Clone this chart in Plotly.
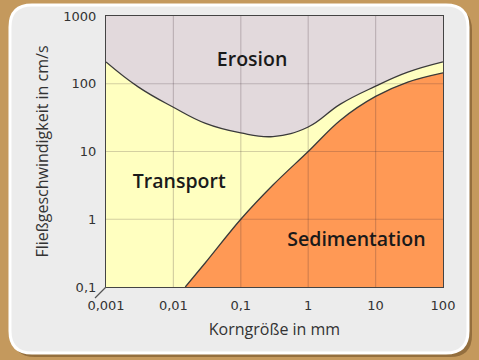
import plotly.graph_objects as go

# ---- data (grain size in mm, flow velocity in cm/s) ----
erosion_x = [0.001, 0.003, 0.01, 0.03, 0.1, 0.3, 1, 3, 10, 30, 100]
erosion_y = [210, 90, 45, 26, 18.8, 16.6, 23, 50, 92, 148, 210]

sediment_x = [0.015, 0.03, 0.1, 0.3, 1, 3, 10, 30, 100]
sediment_y = [0.1, 0.23, 1.0, 3.2, 10, 29, 65, 106, 145]

x_tickvals = [0.001, 0.01, 0.1, 1, 10, 100]
x_ticktext = ["0,001", "0,01", "0,1", "1", "10", "100"]
y_tickvals = [0.1, 1, 10, 100, 1000]
y_ticktext = ["0,1", "1", "10", "100", "1000"]

x_range = [0.001, 100]
y_range = [0.1, 1000]

region_labels = ["Erosion", "Transport", "Sedimentation"]
region_label_x = [0.147, 0.0122, 5.2]
region_label_y = [217, 3.43, 0.477]

# ---- styling ----
W, H = 479, 360
ML, MR, MT, MB = 106, 36, 16, 73
PW, PH = W - ML - MR, H - MT - MB

BROWN = "#c4995d"
PANEL = "#ececec"
EROSION_C = "#e2d9dc"
TRANSPORT_C = "#ffffc0"
SEDIMENT_C = "#ff9955"
LINE_C = "#3a3a3a"

def px2paper(x, y):
    return (x - ML) / PW, (H - MB - y) / PH

def rounded_rect_path(x0, y0, x1, y1, r):
    def P(x, y):
        a, b = px2paper(x, y)
        return f"{a:.5f},{b:.5f}"
    return (f"M {P(x0 + r, y0)} L {P(x1 - r, y0)} Q {P(x1, y0)} {P(x1, y0 + r)} "
            f"L {P(x1, y1 - r)} Q {P(x1, y1)} {P(x1 - r, y1)} "
            f"L {P(x0 + r, y1)} Q {P(x0, y1)} {P(x0, y1 - r)} "
            f"L {P(x0, y0 + r)} Q {P(x0, y0)} {P(x0 + r, y0)} Z")

fig = go.Figure()

# erosion region: between top of chart and erosion curve
fig.add_trace(go.Scatter(x=x_range, y=[y_range[1]] * 2, mode="lines",
                         line=dict(width=0), hoverinfo="skip", showlegend=False))
fig.add_trace(go.Scatter(x=erosion_x, y=erosion_y, mode="lines", fill="tonexty",
                         fillcolor=EROSION_C,
                         line=dict(color=LINE_C, width=1.3, shape="spline", smoothing=1.2),
                         showlegend=False))
# sedimentation region: between bottom and sedimentation curve
fig.add_trace(go.Scatter(x=[sediment_x[0], x_range[1]], y=[y_range[0]] * 2, mode="lines",
                         line=dict(width=0), hoverinfo="skip", showlegend=False))
fig.add_trace(go.Scatter(x=sediment_x, y=sediment_y, mode="lines", fill="tonexty",
                         fillcolor=SEDIMENT_C, line=dict(color=LINE_C, width=1.3, shape="spline"),
                         showlegend=False))

# grid lines drawn over fills
gx, gy = [], []
for v in x_tickvals[1:-1]:
    gx += [v, v, None]
    gy += [y_range[0], y_range[1], None]
for v in y_tickvals[1:-1]:
    gx += [x_range[0], x_range[1], None]
    gy += [v, v, None]
fig.add_trace(go.Scatter(x=gx, y=gy, mode="lines", line=dict(color="rgba(60,40,50,0.22)", width=1.2),
                         hoverinfo="skip", showlegend=False))

fig.add_trace(go.Scatter(x=region_label_x, y=region_label_y, mode="text", text=region_labels,
                         textfont=dict(family="Open Sans", size=19.5, color="#1a1a1a", weight=600),
                         hoverinfo="skip", showlegend=False))

shapes = [
    # panel shadow
    dict(type="path", xref="paper", yref="paper", layer="below",
         path=rounded_rect_path(13, 8, 472, 357, 22), fillcolor="rgba(90,60,25,0.45)", line=dict(width=0)),
    # panel
    dict(type="path", xref="paper", yref="paper", layer="below",
         path=rounded_rect_path(10, 5, 468, 353, 22), fillcolor=PANEL, line=dict(color="white", width=3)),
    # transport background (plot area)
    dict(type="rect", xref="paper", yref="paper", layer="below",
         x0=0, x1=1, y0=0, y1=1, fillcolor=TRANSPORT_C, line=dict(width=0)),
]
a, b = px2paper(ML - 11, H - MB + 11)
shapes.append(dict(type="line", xref="paper", yref="paper", x0=0, y0=0, x1=a, y1=b,
                   line=dict(color="#555555", width=1.2)))

fig.update_layout(
    width=W, height=H,
    margin=dict(l=ML, r=MR, t=MT, b=MB, autoexpand=False),
    paper_bgcolor=BROWN, plot_bgcolor="rgba(0,0,0,0)",
    shapes=shapes,
    font=dict(family="DejaVu Sans", color="#333333"),
    xaxis=dict(type="log", range=[-3, 2], tickvals=x_tickvals, ticktext=x_ticktext,
               showgrid=False, zeroline=False, showline=True, mirror=True,
               linecolor="#444444", linewidth=1.2, ticks="", ticklabelstandoff=6,
               tickfont=dict(family="DejaVu Sans", size=13, color="#333333"),
               title=dict(text="Korngröße in mm", standoff=12,
                          font=dict(family="Open Sans", size=16, color="#333333"))),
    yaxis=dict(type="log", range=[-1, 3], tickvals=y_tickvals, ticktext=y_ticktext,
               showgrid=False, zeroline=False, showline=True, mirror=True,
               linecolor="#444444", linewidth=1.2, ticks="", ticklabelstandoff=6,
               tickfont=dict(family="DejaVu Sans", size=13, color="#333333"),
               title=dict(text="Fließgeschwindigkeit in cm/s", standoff=10,
                          font=dict(family="Open Sans", size=16, color="#333333"))),
)

fig.write_html("out.html", config={"displayModeBar": False},
               post_script="document.body.style.margin='0';document.body.style.padding='0';"
                           "document.body.style.overflow='hidden';window.dispatchEvent(new Event('resize'));")
